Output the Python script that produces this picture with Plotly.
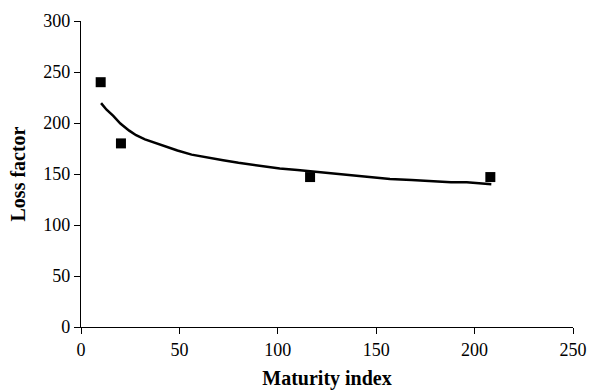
import plotly.graph_objects as go

# Observed data points
obs_x = [10, 20.3, 116.4, 208]
obs_y = [240, 180, 147, 147]

# Fitted curve
fit_x = [10.2, 13, 16.4, 20, 24.5, 28, 32.5, 37, 41.8, 49, 56.2, 64, 72.2, 80,
         87.4, 94, 101, 110, 118, 123, 135, 146, 157, 168, 179, 188, 196, 208.5]
fit_y = [219.5, 213, 207, 199.5, 192.5, 188, 184, 181, 177.5, 173, 169, 166, 163.5,
         161, 159, 157, 155.5, 154, 152.5, 151.5, 149, 147, 145, 144, 142.5, 142,
         141.8, 140]

x_ticks = [0, 50, 100, 150, 200, 250]
y_ticks = [0, 50, 100, 150, 200, 250, 300]

fig = go.Figure()
fig.add_trace(go.Scatter(x=fit_x, y=fit_y, mode="lines",
                         line=dict(color="black", width=2.5), showlegend=False))
fig.add_trace(go.Scatter(x=obs_x, y=obs_y, mode="markers",
                         marker=dict(symbol="square", color="black", size=10),
                         showlegend=False))

fam = "Liberation Serif, Times New Roman, serif"
fig.update_layout(
    width=590, height=390,
    margin=dict(l=81, r=17, t=21, b=63),
    paper_bgcolor="white", plot_bgcolor="white",
    font=dict(family=fam, size=18, color="black"),
    xaxis=dict(range=[0, 250], tickvals=x_ticks, showgrid=False, zeroline=False,
               showline=True, linecolor="black", linewidth=1.2,
               ticks="outside", ticklen=6, tickcolor="black", automargin=False,
               title=dict(text="<b>Maturity index</b>", standoff=14,
                          font=dict(family=fam, size=20))),
    yaxis=dict(range=[0, 300], tickvals=y_ticks, showgrid=False, zeroline=False,
               showline=True, linecolor="black", linewidth=1.2,
               ticks="outside", ticklen=6, tickcolor="black", automargin=False,
               title=dict(text="<b>Loss factor</b>", standoff=12,
                          font=dict(family=fam, size=20))),
)
fig.write_html(
    "out.html",
    config={"displayModeBar": False},
    post_script="document.body.style.margin='0px';document.body.style.overflow='hidden';",
)
